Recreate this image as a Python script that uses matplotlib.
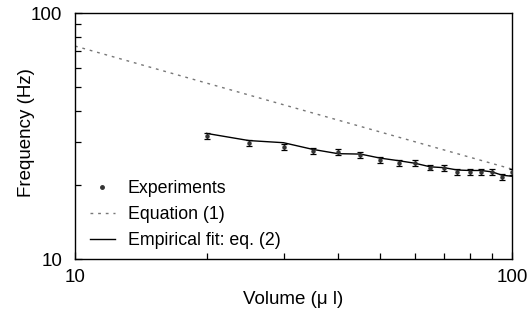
import matplotlib
matplotlib.use("Agg")
import matplotlib.pyplot as plt
from matplotlib.lines import Line2D
from matplotlib.ticker import FixedLocator, NullFormatter, FixedFormatter

plt.rcParams['font.family'] = ['Liberation Sans', 'DejaVu Sans']

volume = [20, 25, 30, 35, 40, 45, 50, 55, 60, 65, 70, 75, 80, 85, 90, 95, 100]
freq_exp = [31.6, 29.7, 28.5, 27.5, 27.2, 26.5, 25.3, 24.6, 24.5, 23.5, 23.4,
            22.6, 22.6, 22.6, 22.6, 21.5, 22.6]
freq_err = [0.8, 0.8, 0.8, 0.8, 0.8, 0.7, 0.7, 0.7, 0.7, 0.6, 0.6,
            0.6, 0.6, 0.6, 0.6, 0.6, 0.6]
freq_fit = [32.4, 30.3, 29.7, 27.9, 26.8, 26.7, 25.7, 25.1, 24.5, 23.7, 23.5,
            23.0, 22.9, 22.9, 22.6, 21.9, 21.7]
eq1_x = [10, 100]
eq1_y = [73.4, 23.2]

fig = plt.figure(figsize=(5.27, 3.19), dpi=100)
ax = fig.add_axes([75/527, 1-259/319, (512-75)/527, (259-13)/319])

ax.errorbar(volume, freq_exp, yerr=freq_err, fmt='o', ms=2.2, color='#333333',
            ecolor='black', elinewidth=0.9, capsize=2, capthick=0.9, zorder=3)
ax.plot(eq1_x, eq1_y, linestyle=(0, (2, 3.5)), color='#777777', lw=1.0)
ax.plot(volume, freq_fit, '-', color='black', lw=1.0)

ax.set_xscale('log')
ax.set_yscale('log')
ax.set_xlim(10, 100)
ax.set_ylim(10, 100)

ax.xaxis.set_major_locator(FixedLocator([10, 100]))
ax.xaxis.set_major_formatter(FixedFormatter(['10', '100']))
ax.xaxis.set_minor_locator(FixedLocator([20, 30, 40, 50, 60, 70, 80, 90]))
ax.xaxis.set_minor_formatter(NullFormatter())
ax.yaxis.set_major_locator(FixedLocator([10, 100]))
ax.yaxis.set_major_formatter(FixedFormatter(['10', '100']))
ax.yaxis.set_minor_locator(FixedLocator([20, 30, 40, 50, 60, 70, 80, 90]))
ax.yaxis.set_minor_formatter(NullFormatter())

ax.tick_params(which='both', direction='in', top=False, right=False,
               labelsize=13.5, width=0.9)
ax.tick_params(axis='x', which='major', length=5, pad=7)
ax.tick_params(axis='y', which='major', length=5, pad=9)
ax.tick_params(which='minor', length=4)
for s in ax.spines.values():
    s.set_linewidth(1.0)

ax.set_xlabel('Volume (μ l)', fontsize=13.5, labelpad=4)
ax.set_ylabel('Frequency (Hz)', fontsize=13.5)
ax.yaxis.set_label_coords(-0.092, 0.515)

handles = [
    Line2D([], [], marker='o', ms=2.5, color='#333333', linestyle='none'),
    Line2D([], [], linestyle=(0, (2, 3.5)), color='#777777', lw=1.0),
    Line2D([], [], linestyle='-', color='black', lw=1.0),
]
labels = ['Experiments', 'Equation (1)', 'Empirical fit: eq. (2)']
ax.legend(handles, labels, loc='lower left', bbox_to_anchor=(0.018, 0.012),
          frameon=False, fontsize=12.8, handlelength=1.4, labelspacing=0.5,
          handletextpad=0.73, borderaxespad=0.0)

fig.savefig('out.png', dpi=100)
